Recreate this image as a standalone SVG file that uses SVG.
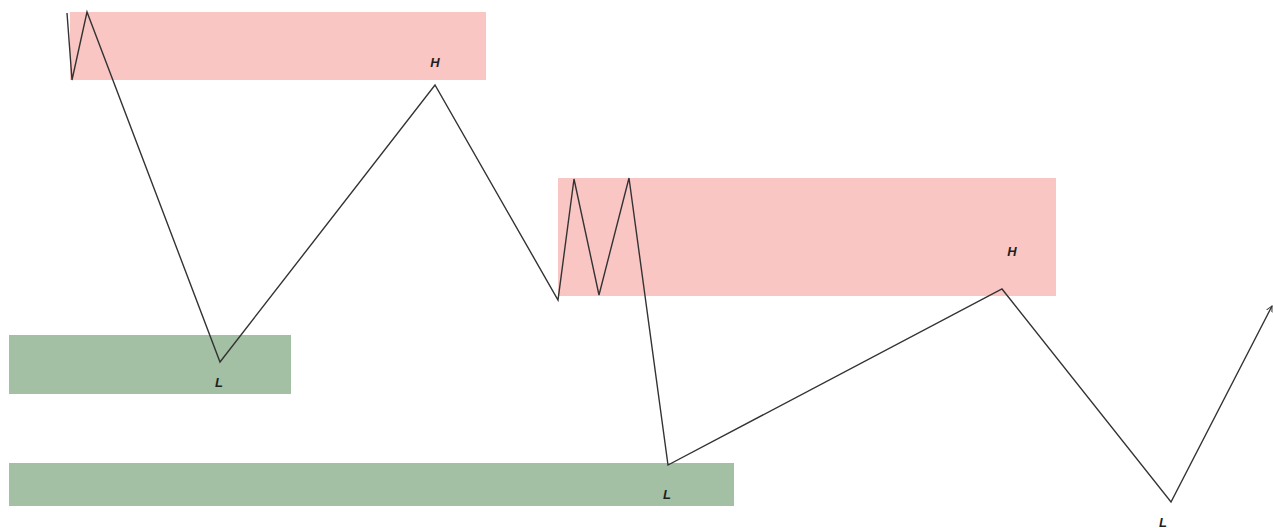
<svg xmlns="http://www.w3.org/2000/svg" width="1273" height="528" viewBox="0 0 1273 528">
<style>
.supply{fill:#f9c6c4}
.demand{fill:#a3bfa4}
.lbl{font-family:"Liberation Sans",Arial,sans-serif;font-size:13px;font-style:italic;font-weight:bold;fill:#1e1e1e;text-anchor:middle}
.path{fill:none;stroke:#333333;stroke-width:1.4;stroke-linejoin:miter}
</style>
<defs>
<marker id="arr" markerWidth="8" markerHeight="8" refX="6" refY="4" orient="auto" markerUnits="userSpaceOnUse">
<path d="M0,1 L6,4 L0,7" fill="none" stroke="#333333" stroke-width="1"/>
</marker>
</defs>
<rect width="1273" height="528" fill="#ffffff"/>
<g id="zone-supply-1"><rect class="supply" x="70" y="12" width="416" height="68"/></g>
<g id="zone-supply-2"><rect class="supply" x="558" y="178" width="498" height="118"/></g>
<g id="zone-demand-1"><rect class="demand" x="9" y="335" width="282" height="59"/></g>
<g id="zone-demand-2"><rect class="demand" x="9" y="463" width="725" height="43"/></g>
<g id="connectors">
<polyline class="path" marker-end="url(#arr)" points="67,13 72,80 87,12 220,362 435,85 558,300 574,179 599,295 629,178 668,465 1002,289 1171,502 1272,306"/>
</g>
<g id="label-H1"><text class="lbl" x="435" y="67">H</text></g>
<g id="label-L1"><text class="lbl" x="219" y="387">L</text></g>
<g id="label-H2"><text class="lbl" x="1012" y="256">H</text></g>
<g id="label-L2"><text class="lbl" x="667" y="499">L</text></g>
<g id="label-L3"><text class="lbl" x="1163" y="527">L</text></g>
</svg>
